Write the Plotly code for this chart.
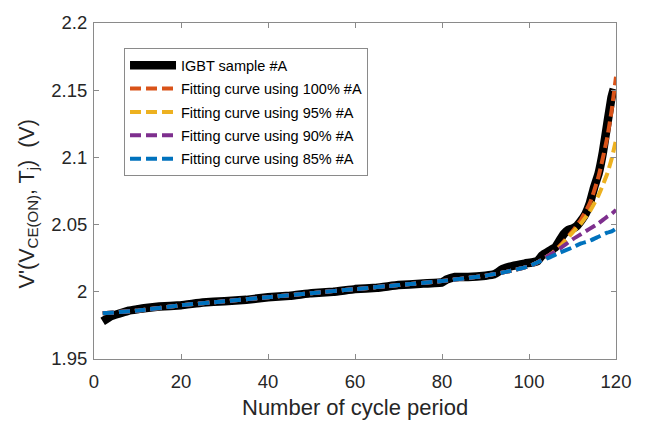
import plotly.graph_objects as go

# IGBT sample #A (measured)
sample_x = [2, 3, 4, 6, 8, 10, 12, 15, 20, 25, 30, 35, 40, 45, 50, 55, 60, 65, 70, 75, 80,
            81, 83, 86, 90, 92, 94, 96, 99, 101, 102, 103, 105, 106, 107, 108, 109, 110,
            111, 112, 113, 114, 115, 116, 117, 118, 119, 119.5]
sample_y = [1.978, 1.980, 1.982, 1.984, 1.986, 1.987, 1.988, 1.989, 1.990, 1.992, 1.993,
            1.994, 1.996, 1.997, 1.999, 2.000, 2.002, 2.003, 2.005, 2.006, 2.007,
            2.009, 2.011, 2.011, 2.012, 2.013, 2.017, 2.019, 2.021, 2.022, 2.023, 2.027,
            2.031, 2.033, 2.038, 2.043, 2.046, 2.047, 2.049, 2.053, 2.058, 2.066, 2.078,
            2.088, 2.104, 2.125, 2.145, 2.151]

fit_x = [2, 10, 20, 30, 40, 50, 60, 70, 80, 90, 95, 100, 102, 105, 107, 110, 112, 114,
         116, 118, 119, 120]
fit100 = [1.984, 1.986, 1.990, 1.993, 1.996, 1.999, 2.002, 2.005, 2.008, 2.012, 2.015,
          2.019, 2.022, 2.028, 2.034, 2.045, 2.054, 2.066, 2.086, 2.115, 2.135, 2.160]
fit95 = [1.984, 1.986, 1.990, 1.993, 1.996, 1.999, 2.002, 2.005, 2.008, 2.012, 2.015,
         2.019, 2.022, 2.028, 2.033, 2.044, 2.051, 2.060, 2.072, 2.088, 2.099, 2.113]
fit90 = [1.984, 1.986, 1.990, 1.993, 1.996, 1.999, 2.002, 2.005, 2.008, 2.012, 2.015,
         2.019, 2.022, 2.028, 2.032, 2.039, 2.043, 2.047, 2.051, 2.056, 2.058, 2.061]
fit85 = [1.984, 1.986, 1.990, 1.993, 1.996, 1.999, 2.002, 2.005, 2.008, 2.012, 2.015,
         2.019, 2.022, 2.026, 2.029, 2.033, 2.036, 2.038, 2.041, 2.044, 2.045, 2.047]

x_ticks = [0, 20, 40, 60, 80, 100, 120]
y_ticks = [1.95, 2.0, 2.05, 2.1, 2.15, 2.2]
y_ticklabels = ["1.95", "2", "2.05", "2.1", "2.15", "2.2"]

names = ["IGBT sample #A", "Fitting curve using 100% #A", "Fitting curve using 95% #A",
         "Fitting curve using 90% #A", "Fitting curve using 85% #A"]
colors = ["#000000", "#D95319", "#EDB120", "#7E2F8E", "#0072BD"]

fig = go.Figure()
fig.add_trace(go.Scatter(x=sample_x, y=sample_y, mode="lines", name=names[0],
                         legendgroup="g0",
                         line=dict(color=colors[0], width=8.5, shape="spline", smoothing=0.3)))
for i, (ys, nm, c) in enumerate(zip([fit100, fit95, fit90, fit85], names[1:], colors[1:])):
    fig.add_trace(go.Scatter(x=fit_x, y=ys, mode="lines", name=nm, legendgroup=f"g{i+1}",
                             line=dict(color=c, width=4, dash="11px,5px", shape="spline",
                                       smoothing=0.5)))

axis_common = dict(showline=True, linecolor="#8a8a8a", linewidth=1, mirror="ticks",
                   ticks="inside", ticklen=5, tickcolor="#8a8a8a", showgrid=False,
                   zeroline=False, tickfont=dict(size=18.5, color="#262626"))

fig.update_layout(
    width=648, height=421,
    margin=dict(l=94, r=32, t=14, b=62),
    paper_bgcolor="white", plot_bgcolor="white",
    font=dict(family="Liberation Sans, Arial, sans-serif", color="#262626"),
    xaxis=dict(range=[0, 120], tickvals=x_ticks, ticklabelstandoff=6, **axis_common),
    yaxis=dict(range=[1.95, 2.2], tickvals=y_ticks, ticktext=y_ticklabels,
               ticklabelstandoff=2, **axis_common),
    legend=dict(x=0.0575, y=0.9246, xanchor="left", yanchor="top",
                bgcolor="white", bordercolor="#8a8a8a", borderwidth=1,
                itemwidth=46,
                font=dict(size=14.5, color="#000000"), tracegroupgap=1.5),
    showlegend=True,
    annotations=[
        dict(text="Number of cycle period", xref="paper", yref="paper", x=0.5, y=0,
             xanchor="center", yanchor="middle", yshift=-48, showarrow=False,
             font=dict(size=22, color="#262626")),
        dict(text="V'(V<sub>CE(ON)</sub>, T<sub>j</sub>)  (V)", xref="paper", yref="paper",
             x=0, y=0.46, xanchor="center", yanchor="middle", xshift=-66, textangle=-90,
             showarrow=False, font=dict(size=21.5, color="#262626")),
    ],
)

fig.write_html("out.html")
